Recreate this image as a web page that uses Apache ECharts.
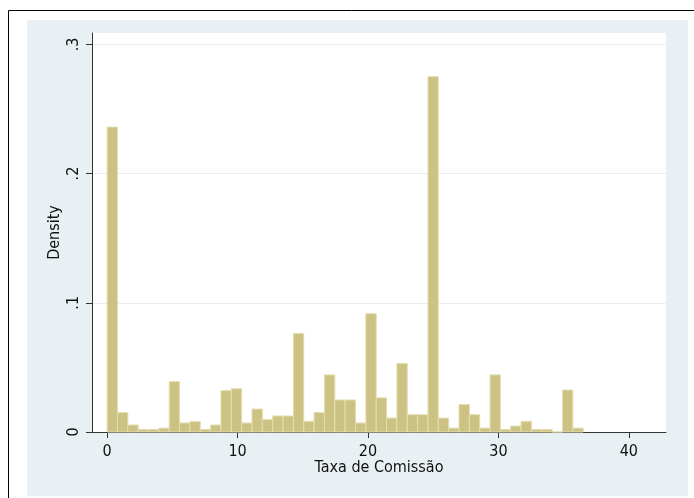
<!DOCTYPE html>
<html>
<head>
<meta charset="utf-8">
<script src="https://cdn.jsdelivr.net/npm/echarts@6/dist/echarts.min.js"></script>
<style>
  html, body { margin: 0; padding: 0; background: #fff; }
  #main { width: 694px; height: 498px; }
</style>
</head>
<body>
<div id="main"></div>
<script>
// histogram bins (Taxa de Comissão), start at 0, equal width
const binStart = 0
const binWidth = 0.7935
const density = [
  0.236, 0.015, 0.0054, 0.002, 0.002, 0.003, 0.039, 0.007, 0.008, 0.002,
  0.0054, 0.032, 0.0335, 0.007, 0.0178, 0.0096, 0.0124, 0.0124, 0.0763, 0.0083,
  0.015, 0.0442, 0.0248, 0.0248, 0.007, 0.0915, 0.0264, 0.0108, 0.053, 0.0134,
  0.0134, 0.275, 0.0108, 0.003, 0.0212, 0.0134, 0.003, 0.0442, 0.002, 0.0046,
  0.0083, 0.002, 0.002, 0, 0.0325, 0.003
]
const xTicks = [0, 10, 20, 30, 40]
const yTicks = [0, 0.1, 0.2, 0.3]

const font = "'Liberation Sans Narrow', 'DejaVu Sans Condensed', 'Liberation Sans', sans-serif"

let bins = density.map((d, i) => [
  binStart + i * binWidth,
  binStart + (i + 1) * binWidth,
  d
])

let myChart = echarts.init(document.getElementById('main'))

let option = {
  animation: false,
  backgroundColor: '#fff',
  textStyle: { fontFamily: font },
  graphic: [
    // graph region
    {
      type: 'rect',
      z: -10,
      shape: { x: 27, y: 20, width: 661, height: 476 },
      style: { fill: '#e9f0f3' }
    },
    // outer frame
    {
      type: 'polyline',
      z: -5,
      shape: { points: [[8.5, 498], [8.5, 10.5], [694, 10.5]] },
      style: { stroke: '#000', lineWidth: 1, fill: null }
    }
  ],
  grid: {
    left: 92,
    right: 28,
    top: 33,
    bottom: 66,
    show: true,
    backgroundColor: '#fff',
    borderWidth: 0
  },
  xAxis: {
    type: 'value',
    min: -1.16,
    max: 42.85,
    name: 'Taxa de Comissão',
    nameLocation: 'middle',
    nameGap: 28,
    nameMoveOverlap: false,
    nameTextStyle: { color: '#111', fontSize: 16, fontFamily: font },
    axisLine: { show: true, onZero: false, lineStyle: { color: '#333', width: 1 } },
    axisTick: {
      show: true,
      customValues: xTicks,
      length: 6,
      lineStyle: { color: '#333' }
    },
    axisLabel: {
      customValues: xTicks,
      margin: 12,
      color: '#111',
      fontSize: 16,
      fontFamily: font
    },
    splitLine: { show: false }
  },
  yAxis: {
    type: 'value',
    min: 0,
    max: 0.3088,
    name: 'Density',
    nameLocation: 'middle',
    nameGap: 29,
    nameMoveOverlap: false,
    nameTextStyle: { color: '#111', fontSize: 16, fontFamily: font },
    axisLine: { show: true, onZero: false, lineStyle: { color: '#333', width: 1 } },
    axisTick: {
      show: true,
      customValues: yTicks,
      length: 6,
      lineStyle: { color: '#333' }
    },
    axisLabel: {
      customValues: yTicks,
      rotate: 90,
      margin: 10,
      color: '#111',
      fontSize: 16,
      fontFamily: font,
      formatter: v => (v === 0 ? '0' : '.' + Math.round(v * 10))
    },
    splitLine: { show: true, lineStyle: { color: '#e8eff1', width: 1 } }
  },
  series: [
    {
      type: 'custom',
      data: bins,
      encode: { x: [0, 1], y: 2 },
      renderItem: (params, api) => {
        let p0 = api.coord([api.value(0), api.value(2)])
        let p1 = api.coord([api.value(1), 0])
        return {
          type: 'rect',
          shape: { x: p0[0], y: p0[1], width: p1[0] - p0[0], height: p1[1] - p0[1] },
          style: { fill: '#cbc283', stroke: '#e4ddb0', lineWidth: 1 }
        }
      }
    }
  ]
}
myChart.setOption(option)
</script>
</body>
</html>
